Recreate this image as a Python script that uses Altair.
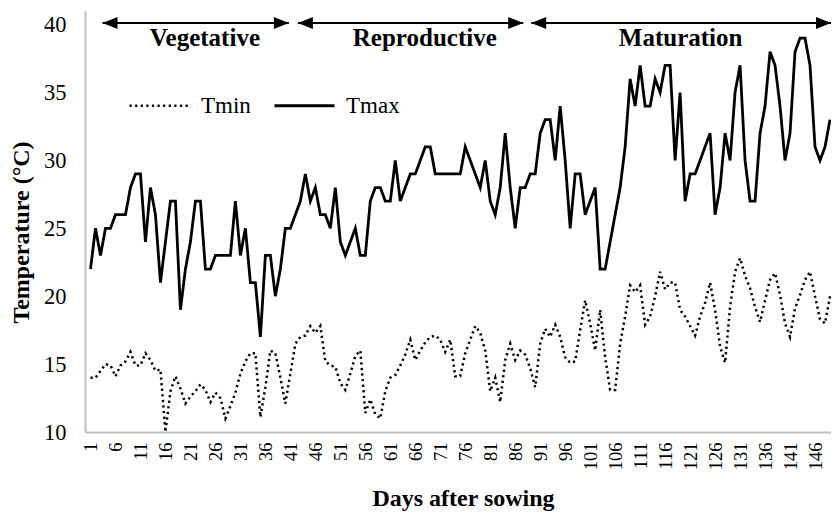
import altair as alt
import pandas as pd

# ---- data ----
days = list(range(1, 150))
tmax = [22, 25, 23, 25, 25, 26, 26, 26, 28, 29,
        29, 24, 28, 26, 21, 24, 27, 27, 19, 22,
        24, 27, 27, 22, 22, 23, 23, 23, 23, 27,
        23, 25, 21, 21, 17, 23, 23, 20, 22, 25,
        25, 26, 27, 29, 27, 28, 26, 26, 25, 28,
        24, 23, 24, 25, 23, 23, 27, 28, 28, 27,
        27, 30, 27, 28, 29, 29, 30, 31, 31, 29,
        29, 29, 29, 29, 29, 31, 30, 29, 28, 30,
        27, 26, 28, 32, 28, 25, 28, 28, 29, 29,
        32, 33, 33, 30, 34, 30, 25, 29, 29, 26,
        27, 28, 22, 22, 24, 26, 28, 31, 36, 34,
        37, 34, 34, 36, 35, 37, 37, 30, 35, 27,
        29, 29, 30, 31, 32, 26, 28, 32, 30, 35,
        37, 30, 27, 27, 32, 34, 38, 37, 34, 30,
        32, 38, 39, 39, 37, 31, 30, 31, 33]
tmin = [14.0, 14.0, 14.5, 15.0, 14.9, 14.1, 14.9, 15.2, 15.9, 14.9,
        14.9, 15.8, 15.3, 14.5, 14.6, 10.0, 13.0, 14.1, 13.2, 12.1,
        12.6, 13.0, 13.5, 13.1, 12.2, 12.9, 12.5, 11.0, 11.9, 12.9,
        14.3, 15.2, 15.8, 15.8, 11.1, 13.3, 16.0, 15.8, 14.0, 12.1,
        14.3, 16.5, 17.0, 17.1, 17.8, 17.3, 17.8, 15.2, 14.9, 14.8,
        13.6, 13.1, 14.3, 15.6, 16.0, 11.4, 12.4, 11.3, 11.0, 13.0,
        14.0, 14.2, 14.9, 15.7, 16.8, 15.3, 16.0, 16.6, 17.0, 17.1,
        16.8, 15.9, 16.8, 14.1, 14.1, 15.8, 16.8, 17.8, 17.3, 16.0,
        13.0, 14.0, 12.2, 15.3, 16.5, 15.3, 16.0, 15.7, 14.7, 13.3,
        16.5, 17.6, 17.0, 17.9, 17.0, 15.5, 15.1, 15.2, 17.5, 19.7,
        18.0, 16.0, 19.0, 15.5, 13.1, 13.1, 16.5, 18.5, 20.8, 20.3,
        20.8, 17.9, 18.5, 20.0, 21.8, 20.5, 21.0, 21.0, 19.0, 18.5,
        17.8, 17.1, 18.5, 19.5, 21.0, 19.0, 16.3, 15.1, 19.2, 21.8,
        22.8, 21.5, 20.6, 19.2, 18.1, 19.7, 21.2, 21.7, 20.1, 18.0,
        17.0, 19.1, 20.1, 21.2, 21.8, 20.0, 18.3, 18.0, 20.0]
series_names = ["Tmin", "Tmax"]

phase_names = ["Vegetative", "Reproductive", "Maturation"]
phase_start = [3.4, 42.5, 89.2]
phase_end = [40.7, 87.6, 149.2]
phase_label_day = [23.9, 67.9, 119.1]

x_ticks = list(range(1, 147, 5))
y_ticks = [10, 15, 20, 25, 30, 35, 40]

# ---- tables ----
df = pd.DataFrame({
    "day": days * 2,
    "temp": tmin + tmax,
    "series": ["Tmin"] * len(days) + ["Tmax"] * len(days),
})
arrows = pd.DataFrame({"day": phase_start, "day_end": phase_end})
heads_left = pd.DataFrame({"day": phase_start})
heads_right = pd.DataFrame({"day": phase_end})
labels = pd.DataFrame({"day": phase_label_day, "name": phase_names})

SERIF = "Liberation Serif"

x_enc = alt.X(
    "day:Q",
    scale=alt.Scale(domain=[-0.1, 149.2], nice=False, zero=False),
    axis=alt.Axis(values=x_ticks, labelAngle=270, title="Days after sowing",
                  grid=False, ticks=False, domainColor="#BFBFBF", domainWidth=2,
                  labelFont=SERIF, labelFontSize=18.5, labelColor="black",
                  labelPadding=10, labelFlush=False, labelOverlap=False,
                  labelBound=False,
                  titleFont=SERIF, titleFontSize=24, titleFontWeight="bold",
                  titleColor="black", titleX=378, titleY=73,
                  titleBaseline="alphabetic", titleAlign="center"),
)

lines = alt.Chart(df).mark_line(color="black", clip=True).encode(
    x=x_enc,
    y=alt.Y("temp:Q", scale=alt.Scale(domain=[10, 41], nice=False, zero=False),
            axis=alt.Axis(values=y_ticks, title="Temperature (°C)", grid=False, ticks=False,
                          domainColor="#BFBFBF", domainWidth=2,
                          labelFont=SERIF, labelFontSize=22.5, labelColor="black",
                          labelPadding=19,
                          titleFont=SERIF, titleFontSize=24, titleFontWeight="bold",
                          titleColor="black", titleAngle=270, titleX=-64, titleY=221,
                          titleBaseline="middle", titleAlign="center")),
    strokeDash=alt.StrokeDash(
        "series:N",
        scale=alt.Scale(domain=series_names, range=[[2.2, 3.4], [1, 0]]),
        legend=alt.Legend(title=None, orient="none", legendX=43, legendY=63,
                          direction="horizontal", symbolType="stroke", symbolSize=3600,
                          symbolStrokeWidth=2.6, symbolStrokeColor="black",
                          labelFont=SERIF, labelFontSize=23, labelColor="black",
                          labelOffset=10, columnPadding=17, padding=0)),
    strokeWidth=alt.StrokeWidth(
        "series:N", scale=alt.Scale(domain=series_names, range=[2.5, 2.8]), legend=None),
)

rule = alt.Chart(arrows).mark_rule(color="black", strokeWidth=2).encode(
    x=x_enc, x2="day_end:Q", y=alt.value(12))

left_head = alt.Chart(heads_left).mark_point(
    shape="M0,0L2,-0.8L2,0.8Z", filled=True, color="black", opacity=1, size=225
).encode(x=x_enc, y=alt.value(12))

right_head = alt.Chart(heads_right).mark_point(
    shape="M0,0L-2,-0.8L-2,0.8Z", filled=True, color="black", opacity=1, size=225
).encode(x=x_enc, y=alt.value(12))

text = alt.Chart(labels).mark_text(
    font=SERIF, fontSize=25, fontWeight="bold", color="black",
    baseline="alphabetic", align="center"
).encode(x=x_enc, y=alt.value(35), text="name:N")

chart = alt.layer(lines, rule, left_head, right_head, text).properties(
    width=746, height=421,
    autosize=alt.AutoSizeParams(type="none"),
    padding={"left": 77, "top": 3, "right": 0, "bottom": 80},
    background="white",
).configure_view(stroke=None).configure_axisX(labelOverlap=False)

chart.save("out.html", embed_options={"renderer": "svg", "actions": False})
